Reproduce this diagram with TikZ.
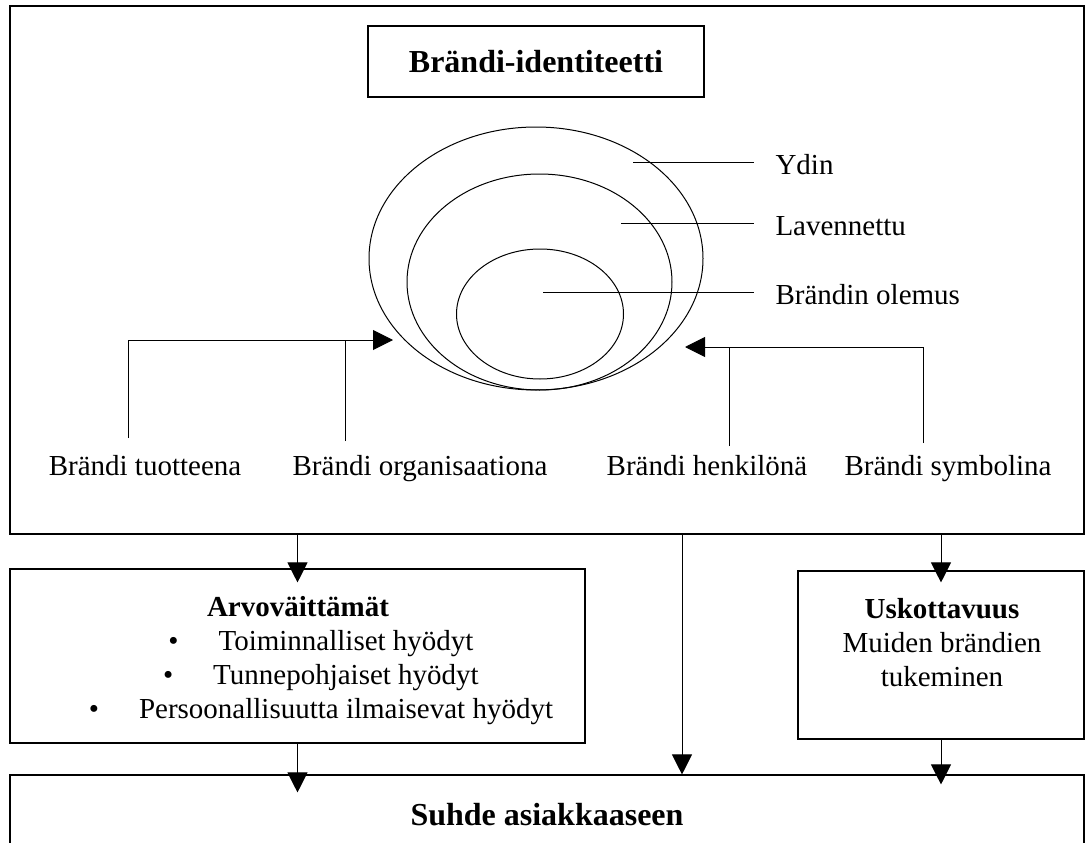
\documentclass[tikz,border=0pt]{standalone}
\usepackage{fontspec}
\setmainfont{Liberation Serif}
\usetikzlibrary{arrows.meta,shapes.geometric,positioning,calc}

\tikzset{
  box/.style={draw,line width=1.1pt,inner sep=0pt},
  ring/.style={draw,ellipse,inner sep=0pt},
  txt/.style={inner sep=0pt,font=\fontsize{29}{34}\selectfont},
  bigtxt/.style={inner sep=0pt,font=\fontsize{32}{38}\selectfont\bfseries},
  pointer/.style={shorten >=21pt},
}

\begin{document}
\begin{tikzpicture}[x=1pt,y=-1pt,>={Triangle[length=20pt,width=20pt]},line width=1pt]
	\useasboundingbox (0,0) rectangle (1085,843);
	%%
	\node (ident) at (547,270) [box,minimum width=1074pt,minimum height=528pt] {};
	\node (title) at (536,61.5) [box,bigtxt,minimum width=336pt,minimum height=71pt] {Brändi-identiteetti};
	\node (arvo) at (297.5,656) [box,minimum width=575pt,minimum height=174pt] {};
	\node (usk) at (941,655) [box,minimum width=286pt,minimum height=168pt] {};
	\node (suhde) at (547,815) [box,bigtxt,minimum width=1074pt,minimum height=80pt] {Suhde asiakkaaseen};

	%% rings
	\node (ringout) at (536,258.5) [ring,minimum width=334pt,minimum height=263pt] {};
	\node (ringmid) at (539.5,282) [ring,minimum width=265pt,minimum height=216pt] {};
	\node (ringin) at (540,314) [ring,minimum width=167pt,minimum height=130pt] {};

	\coordinate (ydinpt) at (633,162);
	\coordinate (lavpt) at (621,223);
	\coordinate (olemuspt) at (543,292);
	\node (ydin) at (775,174) [txt,anchor=base west] {Ydin};
	\node (lav) at (775,235) [txt,anchor=base west] {Lavennettu};
	\node (olemus) at (775,304) [txt,anchor=base west] {Brändin olemus};
	\draw [pointer] (ydinpt) -- (ydinpt -| ydin.west);
	\draw [pointer] (lavpt) -- (lavpt -| lav.west);
	\draw [pointer] (olemuspt) -- (olemuspt -| olemus.west);

	%% four views
	\node (tuote) at (145,475) [txt,anchor=base] {Brändi tuotteena};
	\node (org) at (420,475) [txt,anchor=base] {Brändi organisaationa};
	\node (henk) at (707,475) [txt,anchor=base] {Brändi henkilönä};
	\node (symb) at (948,475) [txt,anchor=base] {Brändi symbolina};
	\coordinate (tuotefoot) at (128,438);
	\coordinate (orgfoot) at (345,441);
	\coordinate (henkfoot) at (729,446);
	\coordinate (symbfoot) at (923,443);
	\coordinate (inleft) at (393,340);
	\coordinate (inright) at (685,347);
	\draw [->] (tuotefoot) |- (inleft);
	\draw (orgfoot) -- (orgfoot |- inleft);
	\draw [->] (symbfoot) |- (inright);
	\draw (henkfoot) -- (henkfoot |- inright);

	%% value box
	\node (arvohead) at (298,616) [txt,font=\fontsize{29}{34}\selectfont\bfseries,anchor=base] {Arvoväittämät};
	\node (b1) at (346,650) [txt,anchor=base] {Toiminnalliset hyödyt};
	\node (b2) at (346,684) [txt,anchor=base] {Tunnepohjaiset hyödyt};
	\node (b3) at (346,718) [txt,anchor=base] {Persoonallisuutta ilmaisevat hyödyt};
	\node (d1) [txt,left=39pt of b1.base west,anchor=base east] {\textbullet};
	\node (d2) [txt,left=39pt of b2.base west,anchor=base east] {\textbullet};
	\node (d3) [txt,left=39pt of b3.base west,anchor=base east] {\textbullet};

	%% credibility box
	\node (usktxt) at (942,643) [txt,align=center] {\textbf{Uskottavuus}\\Muiden brändien\\tukeminen};

	%% flows
	\coordinate (midx) at (682,0);
	\draw [->] (arvo.north |- ident.south) -- ($(arvo.north)+(0,14)$);
	\draw [->] (ident.south -| midx) -- (suhde.north -| midx);
	\draw [->] (usk.north |- ident.south) -- ($(usk.north)+(0,12)$);
	\draw [->] (arvo.south) -- ($(suhde.north -| arvo.south)+(0,18)$);
	\draw [->] (usk.south) -- ($(suhde.north -| usk.south)+(0,10)$);
	%
\end{tikzpicture}
\end{document}
